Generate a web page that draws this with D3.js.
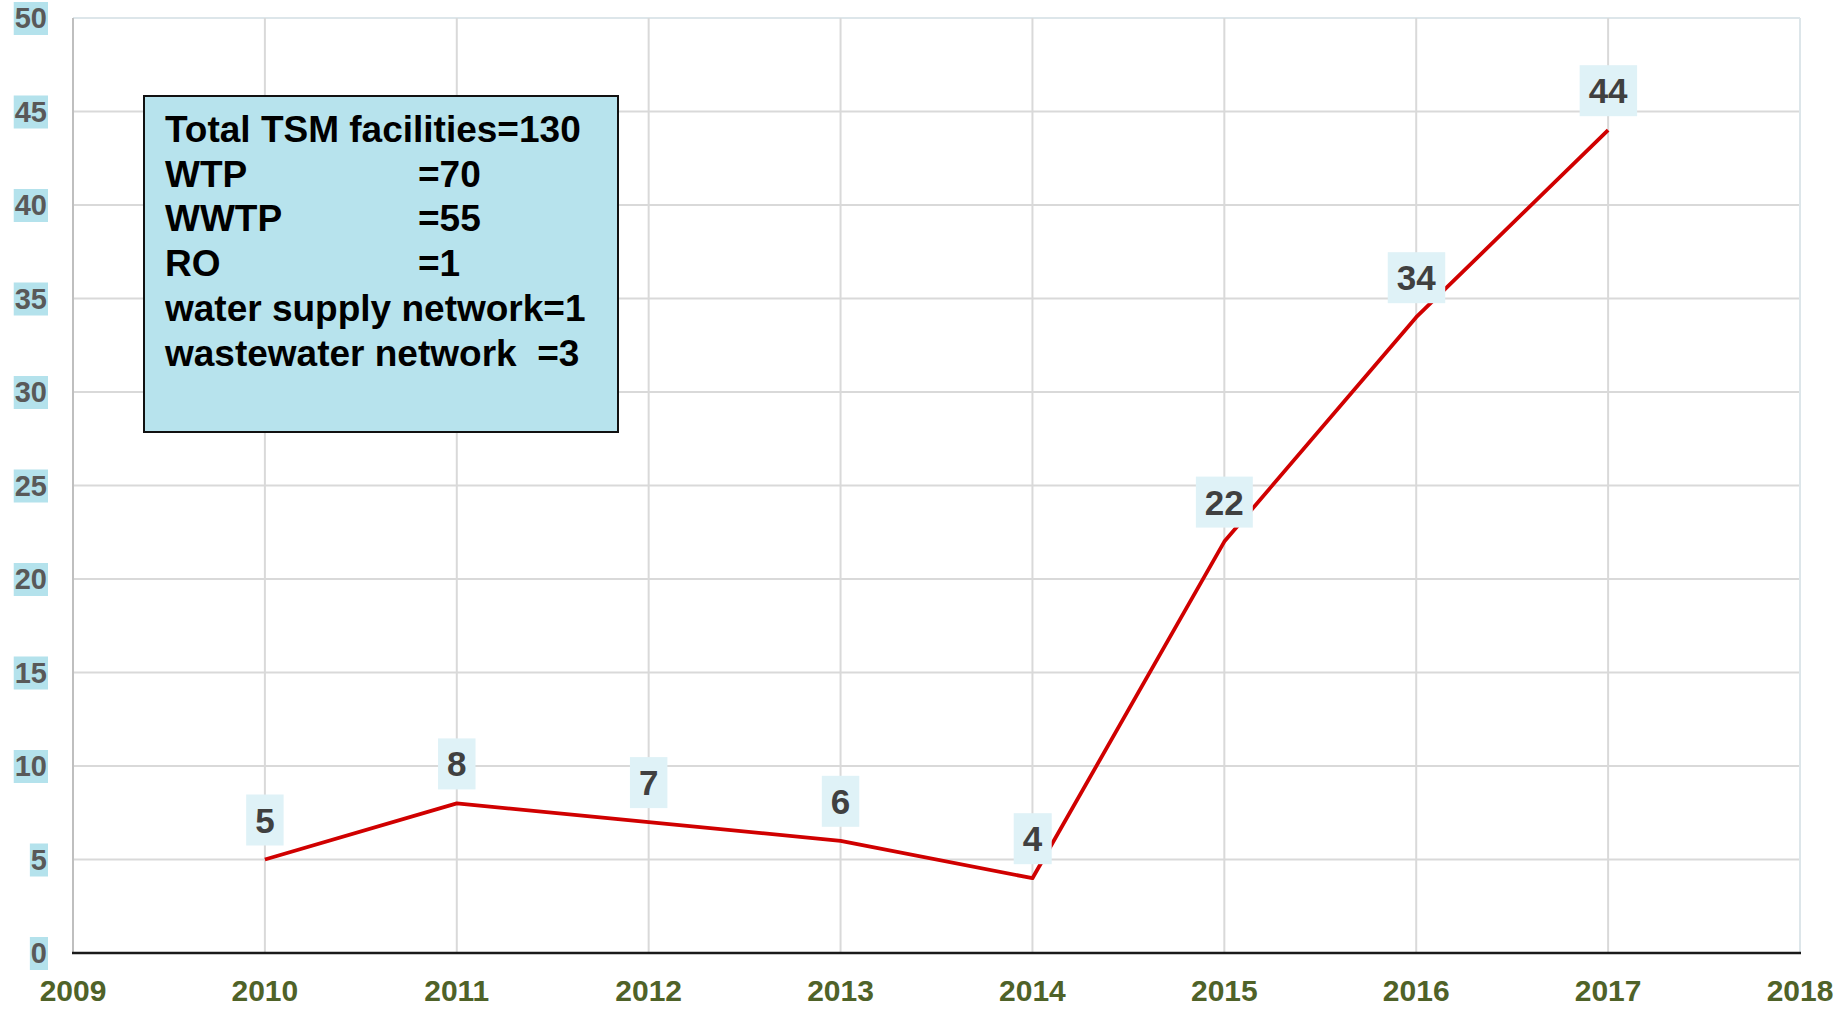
<!DOCTYPE html>
<html>
<head>
<meta charset="utf-8">
<script src="https://cdn.jsdelivr.net/npm/d3@7"></script>
<style>
  body { margin: 0; background: #fff; }
  svg { display: block; font-family: "Liberation Sans", Arial, sans-serif; font-weight: bold; }
</style>
</head>
<body>
<svg id="chart" width="1844" height="1009"></svg>
<script>
// data
var years = [2010, 2011, 2012, 2013, 2014, 2015, 2016, 2017];
var facilities = [5, 8, 7, 6, 4, 22, 34, 44];
var xTicks = [2009, 2010, 2011, 2012, 2013, 2014, 2015, 2016, 2017, 2018];
var yTicks = [0, 5, 10, 15, 20, 25, 30, 35, 40, 45, 50];
var noteLines = [
    ["Total TSM facilities=130", ""],
    ["WTP", "=70"],
    ["WWTP", "=55"],
    ["RO", "=1"],
    ["water supply network=1", ""],
    ["wastewater network  =3", ""]
];

var svg = d3.select("#chart");
var plotL = 73, plotR = 1800, plotT = 18, plotB = 953;

var x = d3.scaleLinear().domain([2009, 2018]).range([plotL, plotR]);
var y = d3.scaleLinear().domain([0, 50]).range([plotB, plotT]);

// grid
svg.append("g")
    .selectAll("line")
    .data(yTicks.filter(d => d > 0))
    .enter()
    .append("line")
    .attr("x1", plotL).attr("x2", plotR)
    .attr("y1", d => y(d)).attr("y2", d => y(d))
    .attr("stroke", d => d == 50 ? "#dde6ea" : "#d9d9d9")
    .attr("stroke-width", 2);

svg.append("g")
    .selectAll("line")
    .data(xTicks.filter(d => d > 2009))
    .enter()
    .append("line")
    .attr("x1", d => x(d)).attr("x2", d => x(d))
    .attr("y1", plotT).attr("y2", plotB)
    .attr("stroke", d => d == 2018 ? "#dde6ea" : "#d9d9d9")
    .attr("stroke-width", 2);

// axis lines
svg.append("line")
    .attr("x1", plotL).attr("x2", plotL)
    .attr("y1", plotT).attr("y2", plotB)
    .attr("stroke", "#bfbfbf").attr("stroke-width", 2);
svg.append("line")
    .attr("x1", plotL - 1).attr("x2", plotR + 1)
    .attr("y1", plotB).attr("y2", plotB)
    .attr("stroke", "#1a1a1a").attr("stroke-width", 2.5);

// y labels with blue background
var yl = svg.append("g")
    .selectAll("g")
    .data(yTicks)
    .enter()
    .append("g")
    .attr("transform", d => "translate(0," + y(d) + ")");
yl.append("text")
    .attr("x", 47)
    .attr("y", 10)
    .attr("text-anchor", "end")
    .attr("font-size", 29)
    .attr("fill", "#595959")
    .text(d => d)
    .each(function() {
        var b = this.getBBox();
        d3.select(this.parentNode).insert("rect", "text")
            .attr("x", b.x - 1).attr("y", -16)
            .attr("width", b.width + 2).attr("height", 33)
            .attr("fill", "#b4e2ec");
    });

// x labels
svg.append("g")
    .selectAll("text")
    .data(xTicks)
    .enter()
    .append("text")
    .attr("x", d => x(d))
    .attr("y", 1001)
    .attr("text-anchor", "middle")
    .attr("font-size", 30)
    .attr("fill", "#4f6228")
    .text(d => d);

// line
var pts = years.map((yr, i) => [yr, facilities[i]]);
svg.append("path")
    .datum(pts)
    .attr("fill", "none")
    .attr("stroke", "#d00000")
    .attr("stroke-width", 3.8)
    .attr("stroke-linejoin", "round")
    .attr("d", d3.line().x(d => x(d[0])).y(d => y(d[1])));

// data labels
var dl = svg.append("g")
    .selectAll("g")
    .data(pts)
    .enter()
    .append("g")
    .attr("transform", d => "translate(" + x(d[0]) + "," + (y(d[1]) - 27) + ")");
dl.append("text")
    .attr("text-anchor", "middle")
    .attr("font-size", 35)
    .attr("fill", "#404040")
    .text(d => d[1])
    .each(function() {
        var b = this.getBBox();
        d3.select(this.parentNode).insert("rect", "text")
            .attr("x", b.x - 9).attr("y", -38)
            .attr("width", b.width + 18).attr("height", 51)
            .attr("fill", "#dff2f7");
    });

// note box
svg.append("rect")
    .attr("x", 144).attr("y", 96)
    .attr("width", 474).attr("height", 336)
    .attr("fill", "#b7e3ed")
    .attr("stroke", "#111")
    .attr("stroke-width", 2);

var note = svg.append("g")
    .selectAll("g")
    .data(noteLines)
    .enter()
    .append("g")
    .attr("transform", (d, i) => "translate(0," + (142 + i * 44.7) + ")");
note.append("text")
    .attr("x", 165)
    .attr("font-size", 37)
    .attr("fill", "#000")
    .style("white-space", "pre")
    .text(d => d[0]);
note.append("text")
    .attr("x", 418)
    .attr("font-size", 37)
    .attr("fill", "#000")
    .text(d => d[1]);
</script>
</body>
</html>
